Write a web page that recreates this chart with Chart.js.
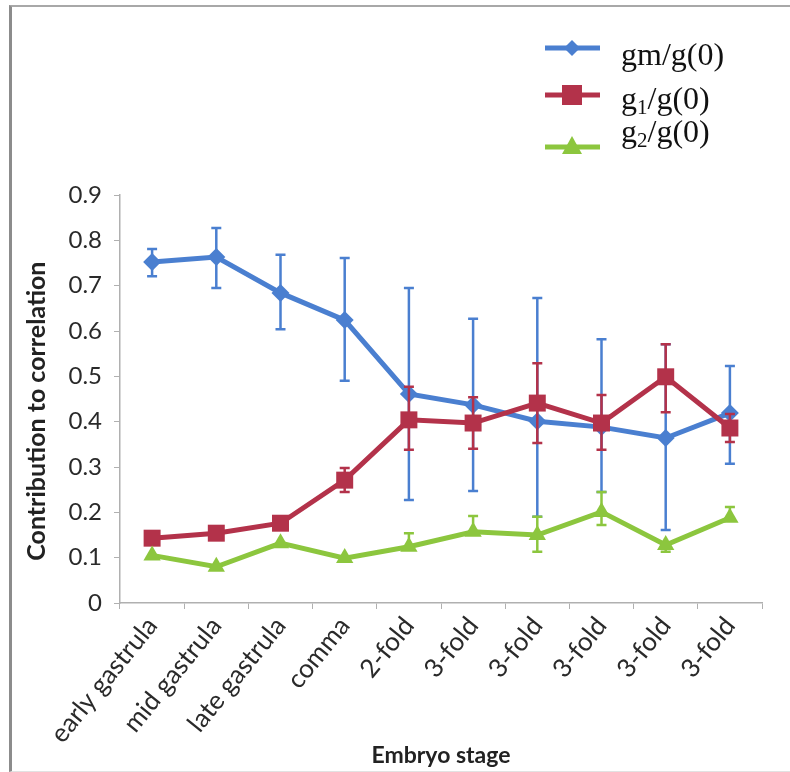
<!DOCTYPE html>
<html>
<head>
<meta charset="utf-8">
<script src="https://cdn.jsdelivr.net/npm/chart.js@4.4.1/dist/chart.umd.min.js"></script>
<style>
  body { margin: 0; background: #fff; }
  #wrap { position: relative; width: 790px; height: 772px; }
  #frame {
    position: absolute; left: 9px; top: 5px; width: 790px; height: 764px;
    border-left: 3px solid #8c8c8c; border-top: 2px solid #a8a8a8; border-bottom: 1px solid #e2e2e2;
    pointer-events: none;
  }
</style>
</head>
<body>
<div id="wrap">
  <canvas id="chart" width="790" height="772"></canvas>
  <div id="frame"></div>
</div>
<script>
// Categories and values
const stages = ['early gastrula', 'mid gastrula', 'late gastrula', 'comma', '2-fold',
                '3-fold', '3-fold', '3-fold', '3-fold', '3-fold'];

const gmValues = [0.752, 0.763, 0.684, 0.624, 0.461, 0.437, 0.401, 0.388, 0.364, 0.419];
const gmHigh   = [0.781, 0.827, 0.768, 0.761, 0.695, 0.627, 0.673, 0.582, 0.571, 0.523];
const gmLow    = [0.721, 0.695, 0.604, 0.490, 0.227, 0.247, 0.190, 0.245, 0.161, 0.307];

const g1Values = [0.143, 0.154, 0.176, 0.271, 0.404, 0.397, 0.441, 0.397, 0.499, 0.386];
const g1High   = [null, null, null, 0.298, 0.477, 0.454, 0.529, 0.459, 0.571, 0.417];
const g1Low    = [null, null, null, 0.245, 0.338, 0.340, 0.353, 0.338, 0.421, 0.355];

const g2Values = [0.105, 0.080, 0.132, 0.099, 0.124, 0.157, 0.150, 0.201, 0.128, 0.188];
const g2High   = [null, null, null, null, 0.154, 0.192, 0.190, 0.245, null, 0.212];
const g2Low    = [null, null, null, null, null, null, 0.113, 0.172, 0.113, null];

const yTicks = [0, 0.1, 0.2, 0.3, 0.4, 0.5, 0.6, 0.7, 0.8, 0.9];

const blue = '#4a7fd0';
const red = '#b3324a';
const green = '#8cc63e';

// error bars drawn right before each line so the stacking follows the series order
const errorBars = {
    id: 'errorBars',
    beforeDatasetDraw(chart, args) {
        const ds = chart.data.datasets[args.index];
        if (!ds.errHigh) return;
        const ctx = chart.ctx;
        const y = chart.scales.y;
        ctx.save();
        ctx.strokeStyle = ds.borderColor;
        ctx.lineWidth = 2.5;
        args.meta.data.forEach((pt, i) => {
            if (ds.errHigh[i] == null && ds.errLow[i] == null) return;
            const hi = ds.errHigh[i] != null ? ds.errHigh[i] : ds.data[i];
            const lo = ds.errLow[i] != null ? ds.errLow[i] : ds.data[i];
            const yt = y.getPixelForValue(hi);
            const yb = y.getPixelForValue(lo);
            ctx.beginPath();
            ctx.moveTo(pt.x, yt); ctx.lineTo(pt.x, yb);
            if (ds.errHigh[i] != null) { ctx.moveTo(pt.x - 5, yt); ctx.lineTo(pt.x + 5, yt); }
            if (ds.errLow[i] != null) { ctx.moveTo(pt.x - 5, yb); ctx.lineTo(pt.x + 5, yb); }
            ctx.stroke();
        });
        ctx.restore();
    }
};

// legend in the top right corner: line + marker, then serif label with subscript
const cornerLegend = {
    id: 'cornerLegend',
    afterDraw(chart) {
        const ctx = chart.ctx;
        const items = [
            { ds: 0, lineY: 48, textY: 57, main: 'gm', sub: '' },
            { ds: 1, lineY: 95, textY: 101, main: 'g', sub: '1' },
            { ds: 2, lineY: 147, textY: 134, main: 'g', sub: '2' }
        ];
        items.forEach(it => {
            const d = chart.data.datasets[it.ds];
            ctx.save();
            ctx.strokeStyle = d.borderColor;
            ctx.lineWidth = 5;
            ctx.beginPath();
            ctx.moveTo(545, it.lineY); ctx.lineTo(600, it.lineY);
            ctx.stroke();
            ctx.fillStyle = d.borderColor;
            ctx.beginPath();
            if (d.pointStyle === 'rectRot') {
                ctx.moveTo(572, it.lineY - 8); ctx.lineTo(580, it.lineY);
                ctx.lineTo(572, it.lineY + 8); ctx.lineTo(564, it.lineY);
            } else if (d.pointStyle === 'rect') {
                ctx.rect(562, it.lineY - 10, 20, 20);
            } else {
                ctx.moveTo(572, it.lineY - 11); ctx.lineTo(582, it.lineY + 7); ctx.lineTo(562, it.lineY + 7);
            }
            ctx.fill();

            ctx.fillStyle = '#111';
            ctx.textBaseline = 'middle';
            ctx.font = '32px "Liberation Serif"';
            let x = 621;
            ctx.fillText(it.main, x, it.textY);
            x += ctx.measureText(it.main).width;
            if (it.sub) {
                ctx.font = '21px "Liberation Serif"';
                ctx.fillText(it.sub, x, it.textY + 7);
                x += ctx.measureText(it.sub).width;
                ctx.font = '32px "Liberation Serif"';
            }
            ctx.fillText('/g(0)', x, it.textY);
            ctx.restore();
        });
    }
};

new Chart(document.getElementById('chart').getContext('2d'), {
    type: 'line',
    data: {
        labels: stages,
        datasets: [
            {
                label: 'gm/g(0)', data: gmValues, errHigh: gmHigh, errLow: gmLow,
                borderColor: blue, backgroundColor: blue, borderWidth: 5,
                pointStyle: 'rectRot', pointRadius: 9, pointBorderWidth: 0, order: 3
            },
            {
                label: 'g1/g(0)', data: g1Values, errHigh: g1High, errLow: g1Low,
                borderColor: red, backgroundColor: red, borderWidth: 5,
                pointStyle: 'rect', pointRadius: 12, pointBorderWidth: 0, order: 2
            },
            {
                label: 'g2/g(0)', data: g2Values, errHigh: g2High, errLow: g2Low,
                borderColor: green, backgroundColor: green, borderWidth: 5,
                pointStyle: 'triangle', pointRadius: 10, pointBorderWidth: 0, order: 1
            }
        ]
    },
    options: {
        responsive: false,
        animation: false,
        layout: { padding: { left: 22, top: 195, right: 28, bottom: 0 } },
        plugins: { legend: { display: false }, tooltip: { enabled: false } },
        scales: {
            x: {
                offset: true,
                grid: { drawOnChartArea: false, drawTicks: true, tickLength: 6, color: '#b0b0b0', offset: true },
                border: { color: '#b0b0b0', width: 1.5 },
                ticks: {
                    maxRotation: 51, minRotation: 51, padding: 2,
                    color: '#2a2a2a', font: { family: 'Lato', size: 26 }
                },
                title: {
                    display: true, text: 'Embryo stage', color: '#222',
                    font: { family: 'Lato', size: 23, weight: 'bold' }, padding: { top: 0, bottom: 3 }
                },
                afterFit(scale) { scale.height = 169; }
            },
            y: {
                min: 0, max: 0.9,
                afterBuildTicks(scale) { scale.ticks = yTicks.map(v => ({ value: v })); },
                grid: { drawOnChartArea: false, drawTicks: true, tickLength: 6, color: '#b0b0b0' },
                border: { color: '#b0b0b0', width: 1.5 },
                ticks: {
                    padding: 12, color: '#2a2a2a', font: { family: 'Lato', size: 24 },
                    callback: v => (v === 0 ? '0' : v.toFixed(1))
                },
                title: {
                    display: true, text: 'Contribution to correlation    ', color: '#222',
                    font: { family: 'Lato', size: 25, weight: 'bold' }, padding: { top: 0, bottom: 0 }
                },
                afterFit(scale) { scale.width = 98; }
            }
        }
    },
    plugins: [errorBars, cornerLegend]
});
</script>
</body>
</html>
